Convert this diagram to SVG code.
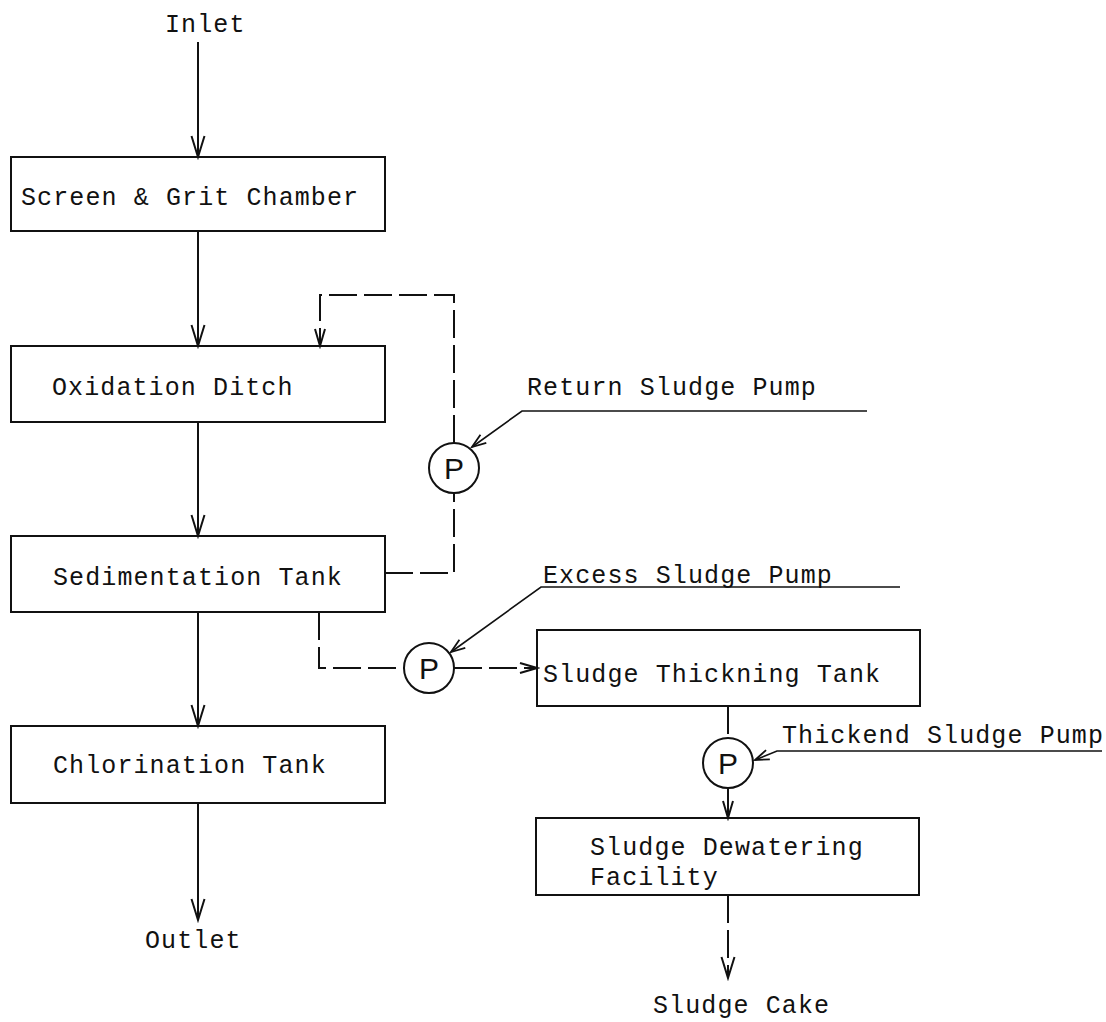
<svg xmlns="http://www.w3.org/2000/svg" width="1106" height="1022" viewBox="0 0 1106 1022">
<style>
.box{fill:none;stroke:#111;stroke-width:2}
.t{font-family:"Liberation Mono","DejaVu Sans Mono",monospace;font-size:25px;letter-spacing:1.1px;fill:#111}
.p{font-family:"Liberation Sans",Arial,sans-serif;font-size:30px;fill:#111;text-anchor:middle}
.ln{fill:none;stroke:#111;stroke-width:2}
.ds{fill:none;stroke:#111;stroke-width:2;stroke-dasharray:28 7}
.ld{fill:none;stroke:#111;stroke-width:1.6}
.pc{fill:#fff;stroke:#111;stroke-width:2}
</style>
<defs>
<marker id="v" markerUnits="userSpaceOnUse" markerWidth="26" markerHeight="18" viewBox="0 0 26 18" refX="23" refY="9" orient="auto">
<path d="M2,2.5 L23,9 L2,15.5" fill="none" stroke="#111" stroke-width="2"/>
</marker>
<marker id="vs" markerUnits="userSpaceOnUse" markerWidth="22" markerHeight="16" viewBox="0 0 22 16" refX="19" refY="8" orient="auto">
<path d="M2,3 L19,8 L2,13" fill="none" stroke="#111" stroke-width="2"/>
</marker>
<marker id="lv" markerUnits="userSpaceOnUse" markerWidth="18" markerHeight="14" viewBox="0 0 18 14" refX="16" refY="7" orient="auto">
<path d="M2,2 L16,7 L2,12" fill="none" stroke="#111" stroke-width="1.8"/>
</marker>
</defs>

<g id="inlet"><text class="t" x="165" y="32">Inlet</text></g>
<g id="screen"><rect class="box" x="11" y="157" width="374" height="74"/><text class="t" x="21" y="205">Screen &amp; Grit Chamber</text></g>
<g id="oxidation"><rect class="box" x="11" y="346" width="374" height="76"/><text class="t" x="52" y="395">Oxidation Ditch</text></g>
<g id="sedimentation"><rect class="box" x="11" y="536" width="374" height="76"/><text class="t" x="53" y="585">Sedimentation Tank</text></g>
<g id="chlorination"><rect class="box" x="11" y="726" width="374" height="77"/><text class="t" x="53" y="773">Chlorination Tank</text></g>
<g id="outlet"><text class="t" x="145" y="948">Outlet</text></g>
<g id="thickening"><rect class="box" x="537" y="630" width="383" height="76"/><text class="t" x="543" y="682">Sludge Thickning Tank</text></g>
<g id="dewatering"><rect class="box" x="536" y="818" width="383" height="77"/><text class="t" x="590" y="855">Sludge Dewatering</text><text class="t" x="590" y="885">Facility</text></g>
<g id="sludgecake"><text class="t" x="653" y="1013">Sludge Cake</text></g>

<g id="return-pump"><circle class="pc" cx="454" cy="468" r="25"/><text class="p" x="454" y="479">P</text></g>
<g id="excess-pump"><circle class="pc" cx="429" cy="668" r="25"/><text class="p" x="429" y="679">P</text></g>
<g id="thickened-pump"><circle class="pc" cx="728" cy="763" r="25"/><text class="p" x="728" y="774">P</text></g>

<g id="labels">
<text class="t" x="527" y="395">Return Sludge Pump</text>
<text class="t" x="543" y="583">Excess Sludge Pump</text>
<text class="t" x="782" y="743">Thickend Sludge Pump</text>
</g>

<g id="connectors">
<line class="ln" x1="198" y1="42" x2="198" y2="157" marker-end="url(#v)"/>
<line class="ln" x1="198" y1="231" x2="198" y2="346" marker-end="url(#v)"/>
<line class="ln" x1="198" y1="422" x2="198" y2="536" marker-end="url(#v)"/>
<line class="ln" x1="198" y1="612" x2="198" y2="726" marker-end="url(#v)"/>
<line class="ln" x1="198" y1="803" x2="198" y2="920" marker-end="url(#v)"/>

<path class="ds" d="M385,573 H454 V493"/>
<path class="ds" d="M454,443 V295 H320 V346" marker-end="url(#vs)"/>

<path class="ds" d="M319,612 V668 H404"/>
<path class="ds" d="M454,668 H537" marker-end="url(#vs)"/>

<path class="ds" d="M728,706 V738"/>
<line class="ln" x1="728" y1="788" x2="728" y2="818" marker-end="url(#vs)"/>
<path class="ds" d="M728,895 V978" marker-end="url(#v)"/>

<path class="ld" d="M867,411 H522 L472,447" marker-end="url(#lv)"/>
<path class="ld" d="M900,587 H541 L451,652" marker-end="url(#lv)"/>
<path class="ld" d="M1102,751 H777 L755,760" marker-end="url(#lv)"/>
</g>
</svg>
